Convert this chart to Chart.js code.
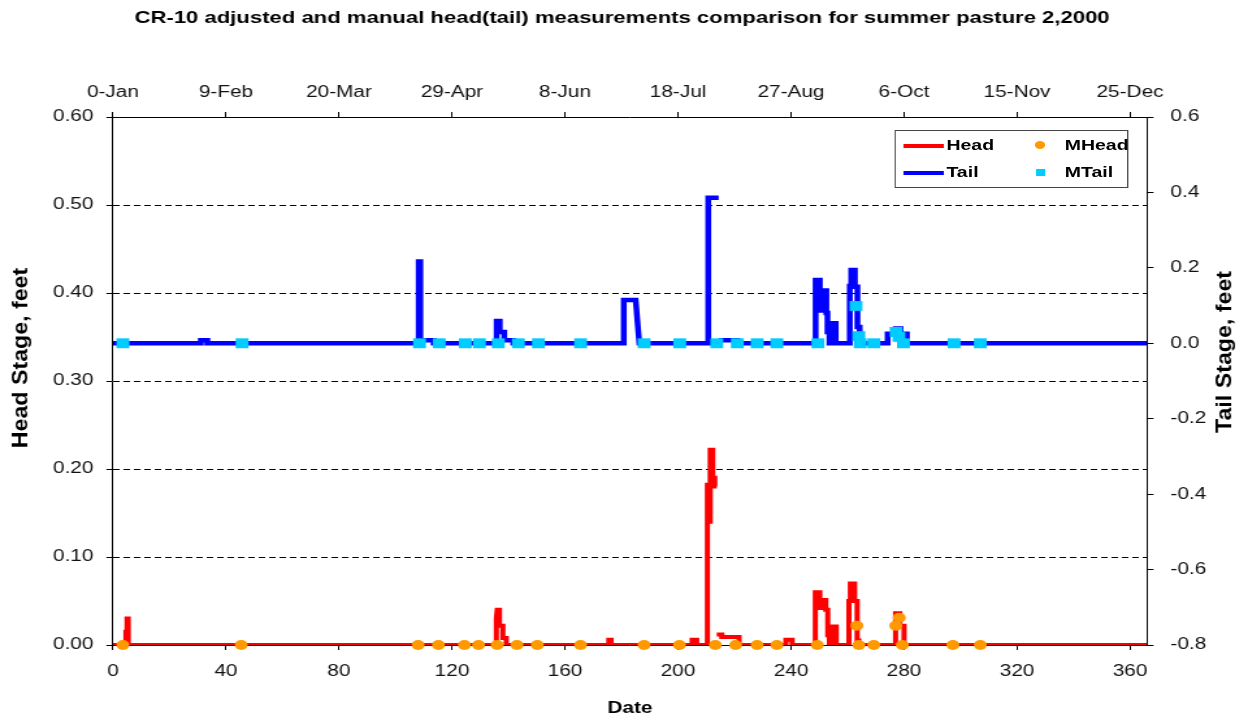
<!DOCTYPE html>
<html>
<head>
<meta charset="utf-8">
<script src="https://cdn.jsdelivr.net/npm/chart.js@4.4.0/dist/chart.umd.min.js"></script>
<style>
  html, body { margin: 0; padding: 0; background: #fff; overflow: hidden; }
  #wrap { position: relative; width: 957px; height: 718px; transform: scaleX(1.3); transform-origin: 0 0; }
  #legend { position: absolute; left: 688px; top: 130px; width: 180px; height: 58px; box-sizing: border-box;
            border: 1px solid #444; background: #fff; font: bold 15px "Liberation Sans", Arial, sans-serif; color: #000; }
  #legend .sw { position: absolute; }
  #legend .tx { position: absolute; line-height: 18px; }
</style>
</head>
<body>
<div id="wrap">
  <canvas id="chart" width="957" height="718"></canvas>
  <div id="legend">
    <div class="sw" style="left:6px; top:13px; width:31px; height:4px; background:#FF0000;"></div>
    <div class="tx" style="left:39px; top:5px;">Head</div>
    <div class="sw" style="left:107px; top:10px; width:8px; height:8px; border-radius:50%; background:#FF9900;"></div>
    <div class="tx" style="left:130px; top:5px;">MHead</div>
    <div class="sw" style="left:6px; top:40px; width:31px; height:4px; background:#0000FF;"></div>
    <div class="tx" style="left:39px; top:32px;">Tail</div>
    <div class="sw" style="left:108px; top:38px; width:7px; height:7px; background:#00CCFF;"></div>
    <div class="tx" style="left:130px; top:32px;">MTail</div>
  </div>
</div>
<script>
// day of year 2000 and stage (feet) for the logger records, null = missing record
const headDays = [0, 4.6, 4.6, 5.0, 5.0, 5.4, 5.4,
  135.7, 135.7, 136.0, 136.8, 136.8, 138.0, 138.0, 139.2, 139.2,
  175.5, 175.5, 176.3, 176.3, 205.0, 205.0, 206.6, 206.6,
  210.4, 210.4, 211.0, 211.0, 211.4, 211.4, 212.3, 212.3, 213.0, 213.0, 213.7, 213.7, 213.7, 215.5, 215.5, 221.6, 221.6,
  238.2, 238.2, 240.4, 240.4,
  248.6, 248.6, 250.2, 250.2, 251.0, 251.0, 252.3, 252.3, 253.0, 253.0, 253.6, 253.6, 254.4, 254.4, 256.0, 256.0,
  260.5, 260.5, 261.0, 261.0, 262.5, 262.5, 263.4, 263.4, 264.0, 264.0,
  277.0, 277.0, 278.5, 278.5, 280.0, 280.0, 366];
const headValues = [0, 0, 0.015, 0.015, 0.03, 0.03, 0,
  0, 0.03, 0.04, 0.04, 0.022, 0.022, 0.008, 0.008, 0,
  0, 0.006, 0.006, 0, 0, 0.006, 0.006, 0,
  0, 0.182, 0.182, 0.14, 0.14, 0.222, 0.222, 0.19, 0.19, 0.18, 0.18, null, 0.012, 0.012, 0.009, 0.009, 0,
  0, 0.006, 0.006, 0,
  0, 0.06, 0.06, 0.042, 0.042, 0.051, 0.051, 0.04, 0.04, 0.011, 0.011, 0, 0, 0.021, 0.021, 0,
  0, 0.05, 0.05, 0.07, 0.07, 0.05, 0.05, 0.005, 0.005, 0,
  0, 0.036, 0.036, 0.022, 0.022, 0, 0];

const tailDays = [0, 31.1, 31.1, 33.4, 33.4,
  108.2, 108.2, 108.8, 108.8, 113.5, 113.5,
  135.8, 135.8, 136.9, 136.9, 138.5, 138.5, 141.7, 141.7,
  180.8, 180.8, 185.0, 186.3,
  210.7, 210.7, 214.4, 214.4, 214.4, 221.0, 221.0,
  248.7, 248.7, 250.2, 250.2, 250.7, 250.7, 251.3, 251.3, 252.5, 252.5, 252.9, 252.9, 253.6, 253.6, 254.5, 254.5, 255.8, 255.8,
  260.8, 260.8, 261.3, 261.3, 262.6, 262.6, 263.5, 263.5, 264.3, 264.3,
  274.2, 274.2, 277.1, 277.1, 278.8, 278.8, 281.0, 281.0, 366];
const tailValues = [0, 0, 0.008, 0.008, 0,
  0, 0.217, 0.217, 0.008, 0.008, 0,
  0, 0.059, 0.059, 0.03, 0.03, 0.008, 0.008, 0,
  0, 0.115, 0.115, 0,
  0, 0.386, 0.386, null, 0.008, 0.008, 0,
  0, 0.168, 0.168, 0.13, 0.13, 0.087, 0.087, 0.14, 0.14, 0.08, 0.08, 0.03, 0.03, 0, 0, 0.053, 0.053, 0,
  0, 0.152, 0.152, 0.194, 0.194, 0.15, 0.15, 0.043, 0.043, 0,
  0, 0.025, 0.025, 0.039, 0.039, 0.025, 0.025, 0, 0];

// manual readings
const mHeadDays = [3.5, 45.4, 108.0, 115.2, 124.4, 129.4, 136.0, 143.0, 150.2, 165.5, 188.0, 200.5,
  213.2, 220.4, 228.0, 235.0, 249.3, 263.3, 264.0, 269.3, 277.1, 278.3, 279.4, 297.3, 307.0];
const mHeadValues = [0, 0, 0, 0, 0, 0, 0, 0, 0, 0, 0, 0,
  0, 0, 0, 0, 0, 0.022, 0, 0, 0.022, 0.031, 0, 0, 0];
const mTailDays = [3.5, 45.7, 108.5, 115.5, 124.7, 129.7, 136.4, 143.5, 150.6, 165.5, 188.0, 200.6,
  213.7, 221.0, 228.0, 235.0, 249.5, 263.0, 264.0, 264.5, 269.3, 277.2, 278.2, 279.8, 297.7, 307.0];
const mTailValues = [0, 0, 0, 0, 0, 0, 0, 0, 0, 0, 0, 0,
  0, 0, 0, 0, 0, 0.099, 0.019, 0, 0, 0.03, 0.017, 0, 0, 0];

const dayTicks = [0, 40, 80, 120, 160, 200, 240, 280, 320, 360];
const dateLabels = ['0-Jan', '9-Feb', '20-Mar', '29-Apr', '8-Jun', '18-Jul', '27-Aug', '6-Oct', '15-Nov', '25-Dec'];
const headTicks = [0, 0.1, 0.2, 0.3, 0.4, 0.5, 0.6];
const tailTicks = [-0.8, -0.6, -0.4, -0.2, 0, 0.2, 0.4, 0.6];

const FONT = '"Liberation Sans", Arial, sans-serif';
const tickFont = { family: FONT, size: 16 };

const pts = (xs, ys) => xs.map((x, i) => ({ x: x, y: ys[i] }));
const setTicks = list => scale => { scale.ticks = list.map(v => ({ value: v })); };

// rotated stage titles on both sides
const sideTitles = {
  id: 'sideTitles',
  afterDraw(chart) {
    const ctx = chart.ctx;
    ctx.save();
    ctx.font = 'bold 16px ' + FONT;
    ctx.fillStyle = '#000';
    ctx.textAlign = 'center';
    ctx.textBaseline = 'middle';
    [[17, 358, 'Head Stage, feet'], [943, 352, 'Tail Stage, feet']].forEach(t => {
      ctx.save();
      ctx.translate(t[0], t[1]);
      ctx.rotate(-Math.PI / 2);
      ctx.scale(1.45, 1);
      ctx.fillText(t[2], 0, 0);
      ctx.restore();
    });
    ctx.restore();
  }
};

const axisGrid = { drawOnChartArea: false, tickLength: 5, color: '#000', tickColor: '#000' };

new Chart(document.getElementById('chart'), {
  type: 'line',
  data: {
    datasets: [
      { label: 'MHead', data: pts(mHeadDays, mHeadValues), yAxisID: 'y', xAxisID: 'x', showLine: false,
        pointStyle: 'circle', pointRadius: 5, backgroundColor: '#FF9900', borderColor: '#FF9900', borderWidth: 0,
        clip: false, order: 1 },
      { label: 'MTail', data: pts(mTailDays, mTailValues), yAxisID: 'y2', xAxisID: 'x', showLine: false,
        pointStyle: 'rect', pointRadius: 7, backgroundColor: '#00CCFF', borderColor: '#00CCFF', borderWidth: 0,
        clip: false, order: 2 },
      { label: 'Head', data: pts(headDays, headValues), yAxisID: 'y', xAxisID: 'x',
        borderColor: '#FF0000', borderWidth: 4, pointRadius: 0, spanGaps: false, order: 3 },
      { label: 'Tail', data: pts(tailDays, tailValues), yAxisID: 'y2', xAxisID: 'x',
        borderColor: '#0000FF', borderWidth: 4.5, pointRadius: 0, spanGaps: false, order: 4 }
    ]
  },
  options: {
    responsive: false,
    animation: false,
    devicePixelRatio: 1,
    layout: { padding: 0 },
    elements: { line: { tension: 0, borderJoinStyle: 'miter' } },
    plugins: {
      legend: { display: false },
      tooltip: { enabled: false },
      title: {
        display: true,
        text: 'CR-10 adjusted and manual head(tail) measurements comparison for summer pasture 2,2000',
        font: { family: FONT, size: 17, weight: 'bold' },
        color: '#000',
        padding: { top: 8, bottom: 6.6 }
      }
    },
    scales: {
      x: {
        type: 'linear', position: 'bottom', min: 0, max: 366,
        afterBuildTicks: setTicks(dayTicks),
        afterFit: s => { s.height = 73; },
        ticks: { font: tickFont, color: '#111', padding: 12, maxRotation: 0, autoSkip: false },
        grid: axisGrid,
        border: { color: '#000', width: 1 },
        title: { display: true, text: 'Date', font: { family: FONT, size: 16, weight: 'bold' }, color: '#000', padding: 0 }
      },
      xTop: {
        type: 'linear', position: 'top', min: 0, max: 366,
        afterBuildTicks: setTicks(dayTicks),
        afterFit: s => { s.height = 82; },
        ticks: { font: tickFont, color: '#111', padding: 10, maxRotation: 0, autoSkip: false,
                 callback: (v, i) => dateLabels[i] },
        grid: axisGrid,
        border: { color: '#000', width: 1 }
      },
      y: {
        position: 'left', min: 0, max: 0.6,
        afterBuildTicks: setTicks(headTicks),
        afterFit: s => { s.width = 86.9; },
        ticks: { font: tickFont, color: '#111', padding: 10, callback: v => v.toFixed(2) },
        grid: {
          tickLength: 5, tickColor: '#000', tickBorderDash: [],
          color: c => (c.tick && c.tick.value > 0 && c.tick.value < 0.6) ? '#000' : 'rgba(0,0,0,0)'
        },
        border: { color: '#000', width: 1, dash: [5, 3] }
      },
      y2: {
        position: 'right', min: -0.8, max: 0.6,
        afterBuildTicks: setTicks(tailTicks),
        afterFit: s => { s.width = 957 - 882.3; },
        ticks: { font: tickFont, color: '#111', padding: 13, callback: v => v.toFixed(1) },
        grid: axisGrid,
        border: { color: '#000', width: 1 }
      }
    }
  },
  plugins: [sideTitles]
});
</script>
</body>
</html>
